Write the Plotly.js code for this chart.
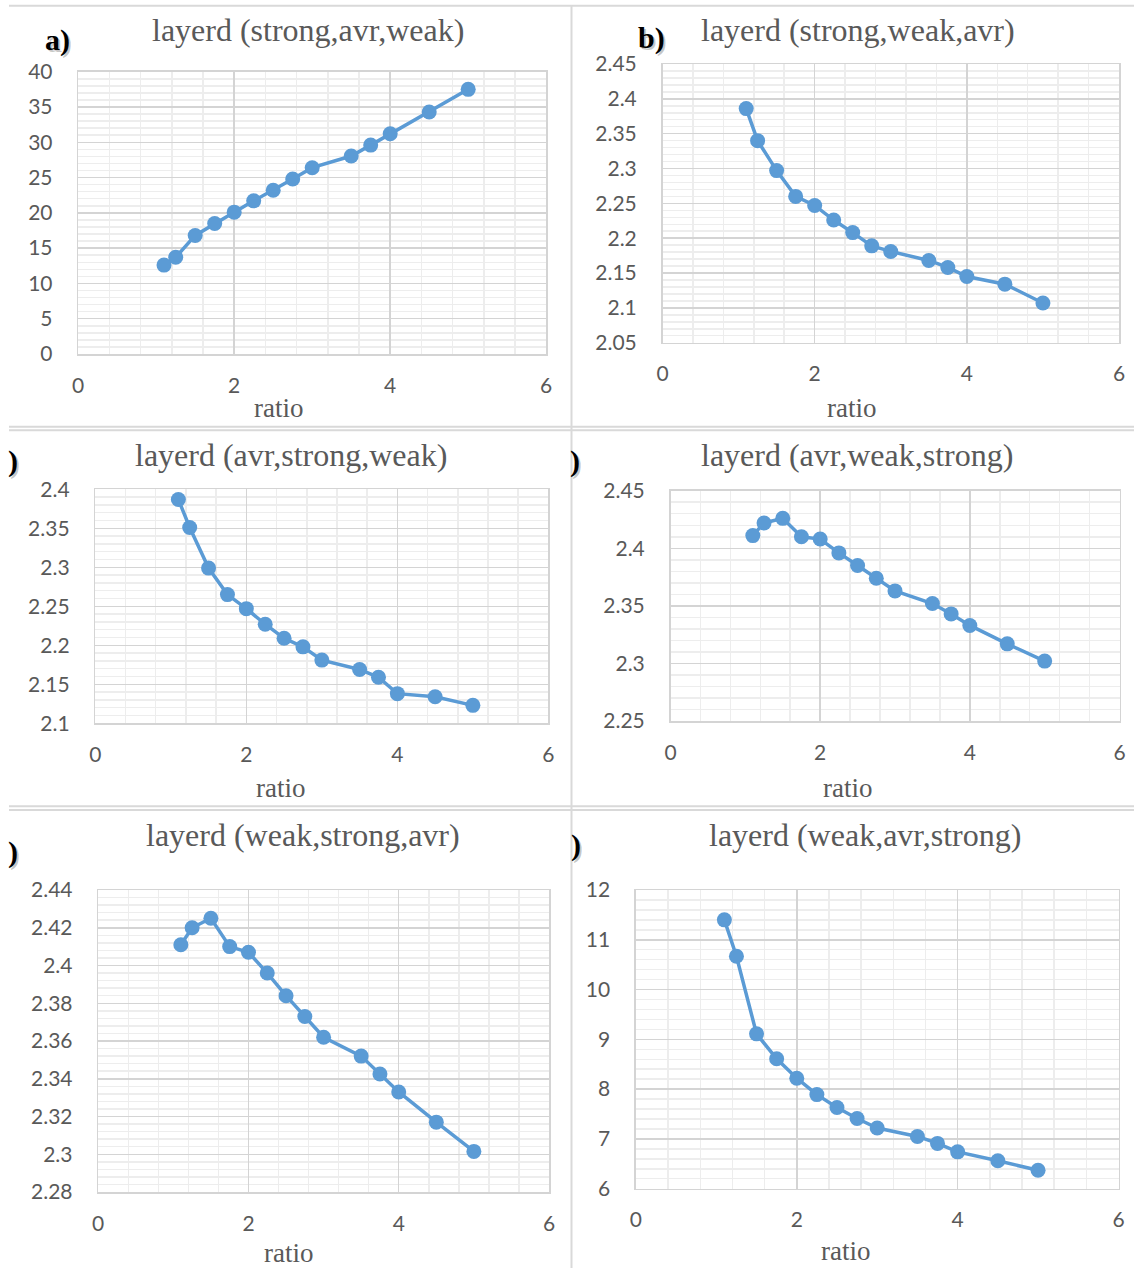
<!DOCTYPE html>
<html>
<head>
<meta charset="utf-8">
<script src="https://cdn.plot.ly/plotly-3.0.1.min.js"></script>
<style>html,body{margin:0;padding:0;background:#fff;}#chart{width:1134px;height:1268px;}</style>
</head>
<body>
<div id="chart"></div>
<script>
// ---- data ----
const ratio = [1.1, 1.25, 1.5, 1.75, 2, 2.25, 2.5, 2.75, 3, 3.5, 3.75, 4, 4.5, 5];
const strongAvrWeak = [12.6, 13.7, 16.8, 18.5, 20.1, 21.7, 23.2, 24.8, 26.4, 28.05, 29.6, 31.2, 34.3, 37.5];
const strongWeakAvr = [2.386, 2.340, 2.297, 2.260, 2.247, 2.226, 2.208, 2.189, 2.181, 2.168, 2.158, 2.145, 2.134, 2.107];
const avrStrongWeak = [2.387, 2.351, 2.299, 2.265, 2.247, 2.227, 2.209, 2.198, 2.181, 2.169, 2.159, 2.138, 2.134, 2.123];
const avrWeakStrong = [2.411, 2.422, 2.426, 2.410, 2.408, 2.396, 2.385, 2.374, 2.363, 2.352, 2.343, 2.333, 2.317, 2.302];
const weakStrongAvr = [2.411, 2.420, 2.425, 2.410, 2.407, 2.396, 2.384, 2.373, 2.362, 2.352, 2.3425, 2.333, 2.317, 2.3015];
const weakAvrStrong = [11.40, 10.67, 9.11, 8.61, 8.22, 7.89, 7.63, 7.41, 7.22, 7.05, 6.91, 6.74, 6.56, 6.37];

const titles = ["layerd (strong,avr,weak)", "layerd (strong,weak,avr)", "layerd (avr,strong,weak)",
                "layerd (avr,weak,strong)", "layerd (weak,strong,avr)", "layerd (weak,avr,strong)"];
const panelLabels = ["a)", "b)", ")", ")", ")", ")"];
const xTitle = "ratio";
const series = [strongAvrWeak, strongWeakAvr, avrStrongWeak, avrWeakStrong, weakStrongAvr, weakAvrStrong];
const yRanges = [[0, 40], [2.05, 2.45], [2.1, 2.4], [2.25, 2.45], [2.28, 2.44], [6, 12]];
const yDticks = [5, 0.05, 0.05, 0.05, 0.02, 1];
const xRange = [0, 6];
const xDtick = 2;

// ---- layout geometry (pixels) ----
const W = 1134, H = 1268;
const boxes = [ // [left, right, top, bottom] of plot areas
  [78.2, 546.2, 71.7, 354],
  [662.5, 1119, 64, 342.7],
  [95.3, 548.4, 489.3, 723.3],
  [670.5, 1119.5, 490.7, 721],
  [98.2, 549, 890, 1192],
  [635.9, 1118.5, 890, 1188.7]
];
const titlePos = [[307.5, 30], [858, 30], [290.5, 455], [857, 455], [303, 835], [865, 835]];
const ratioPos = [[278, 408], [851, 408], [280, 788], [847, 788], [288, 1253], [845, 1251]];
const labelPos = [[57, 40], [651, 38], [13, 461], [575, 461], [13, 852], [576, 845]];

const px = x => x / W;
const py = y => 1 - y / H;

const blue = '#5B9BD5';
const grey = '#595959';
const majorGrid = '#d4d4d4';
const minorGrid = '#ededed';
const tickFont = {family: 'Lato, "Open Sans", sans-serif', size: 21, color: grey};

const data = [];
const layout = {
  width: W, height: H,
  margin: {l: 0, r: 0, t: 0, b: 0},
  paper_bgcolor: '#ffffff', plot_bgcolor: '#ffffff',
  showlegend: false,
  annotations: [],
  shapes: []
};

for (let i = 0; i < 6; i++) {
  const n = i + 1;
  const xa = n === 1 ? 'x' : 'x' + n;
  const ya = n === 1 ? 'y' : 'y' + n;
  data.push({
    type: 'scatter', mode: 'lines+markers',
    x: ratio, y: series[i], xaxis: xa, yaxis: ya,
    line: {color: blue, width: 3.5},
    marker: {color: blue, size: 15},
    cliponaxis: false
  });
  const b = boxes[i];
  const axCommon = {
    showline: true, mirror: true, linecolor: majorGrid, linewidth: 1.5,
    showgrid: true, gridcolor: majorGrid, gridwidth: 1.5,
    zeroline: false, ticks: 'outside', tickcolor: 'rgba(0,0,0,0)',
    tickfont: tickFont, fixedrange: true
  };
  layout['xaxis' + (n === 1 ? '' : n)] = Object.assign({}, axCommon, {
    domain: [px(b[0]), px(b[1])], anchor: ya,
    range: xRange, dtick: xDtick, tick0: 0, ticklen: 12,
    minor: {dtick: 0.4, tick0: 0, showgrid: true, gridcolor: minorGrid, gridwidth: 1.5, ticks: ''}
  });
  layout['yaxis' + (n === 1 ? '' : n)] = Object.assign({}, axCommon, {
    domain: [py(b[3]), py(b[2])], anchor: xa,
    range: yRanges[i], dtick: yDticks[i], tick0: yRanges[i][0], ticklen: 20,
    minor: {dtick: yDticks[i] / 5, tick0: yRanges[i][0], showgrid: true, gridcolor: minorGrid, gridwidth: 1.5, ticks: ''}
  });
  layout.annotations.push({
    xref: 'paper', yref: 'paper', x: px(titlePos[i][0]), y: py(titlePos[i][1]),
    xanchor: 'center', yanchor: 'middle', showarrow: false,
    text: titles[i], font: {family: '"Liberation Serif", "Times New Roman", serif', size: 32, color: grey}
  });
  layout.annotations.push({
    xref: 'paper', yref: 'paper', x: px(ratioPos[i][0]), y: py(ratioPos[i][1]),
    xanchor: 'center', yanchor: 'middle', showarrow: false,
    text: xTitle, font: {family: '"Liberation Serif", "Times New Roman", serif', size: 27, color: grey}
  });
  // shadow + label
  layout.annotations.push({
    xref: 'paper', yref: 'paper', x: px(labelPos[i][0] + 2), y: py(labelPos[i][1] + 2),
    xanchor: 'center', yanchor: 'middle', showarrow: false,
    text: '<b>' + panelLabels[i] + '</b>', font: {family: '"Liberation Serif", serif', size: 30, color: 'rgba(0,0,0,0.22)'}
  });
  layout.annotations.push({
    xref: 'paper', yref: 'paper', x: px(labelPos[i][0]), y: py(labelPos[i][1]),
    xanchor: 'center', yanchor: 'middle', showarrow: false,
    text: '<b>' + panelLabels[i] + '</b>', font: {family: '"Liberation Serif", serif', size: 30, color: '#000000'}
  });
}

// separator lines (table cell borders)
const sep = {color: '#d9d9d9', width: 2};
const hLines = [[9, W, 5.7], [9, W, 426.7], [9, W, 430.3], [9, W, 806.3], [9, W, 810]];
hLines.forEach(l => layout.shapes.push({type: 'line', xref: 'paper', yref: 'paper',
  x0: px(l[0]), x1: px(l[1]), y0: py(l[2]), y1: py(l[2]), line: sep}));
layout.shapes.push({type: 'line', xref: 'paper', yref: 'paper',
  x0: px(571.5), x1: px(571.5), y0: py(5.7), y1: py(H), line: sep});

Plotly.newPlot('chart', data, layout, {staticPlot: true, displayModeBar: false});
</script>
</body>
</html>
